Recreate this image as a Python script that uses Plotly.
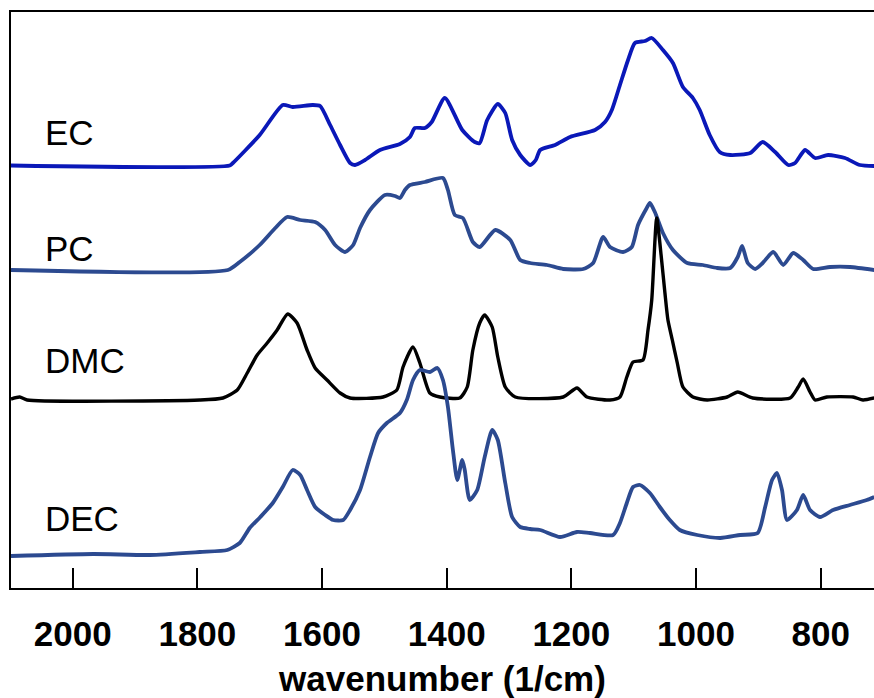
import plotly.graph_objects as go

# ---- data (wavenumber in 1/cm, relative absorbance, arbitrary units) ----
series_names = ["EC", "PC", "DMC", "DEC"]
series_offsets = [4.225, 3.18, 1.88, 0.33]

ec_wn = [2099, 1748, 1743, 1700, 1663, 1647, 1615, 1603, 1587, 1571, 1555, 1547, 1531, 1507, 1475,
         1459, 1451, 1435, 1424, 1403, 1375, 1355, 1347, 1335, 1318, 1306, 1295, 1282, 1266, 1257,
         1250, 1226, 1202, 1162, 1146, 1135, 1122, 1109, 1098, 1082, 1071, 1053, 1037, 1021, 1005,
         994, 978, 962, 945, 913, 893, 873, 852, 841, 825, 809, 788, 761, 737, 714]
ec_abs = [0, 0, .025, .305, .605, .585, .605, .595, .405, .205, .025, .005, .055, .155, .215,
          .285, .375, .375, .435, .675, .355, .235, .225, .455, .615, .525, .255, .105, .005, .055,
          .155, .205, .285, .355, .435, .555, .805, 1.055, 1.225, 1.245, 1.275, 1.155, 1.025, .785, .675,
          .555, .305, .135, .105, .125, .235, .135, .005, .025, .155, .075, .105, .075, .005, -.005]

pc_wn = [2099, 1751, 1732, 1700, 1675, 1656, 1635, 1611, 1595, 1579, 1563, 1550, 1539, 1523, 1499,
         1483, 1475, 1467, 1459, 1435, 1406, 1398, 1387, 1374, 1358, 1347, 1322, 1298, 1282, 1266,
         1239, 1213, 1181, 1165, 1149, 1138, 1117, 1103, 1093, 1079, 1074, 1066, 1053, 1037, 1014,
         989, 966, 945, 933, 926, 917, 905, 893, 876, 860, 844, 828, 812, 785, 753, 714]
pc_abs = [0, 0, .08, .25, .42, .53, .50, .48, .40, .25, .18, .25, .42, .60, .75,
          .74, .72, .80, .85, .88, .92, .80, .55, .52, .28, .23, .40, .30, .10, .07,
          .05, .01, .01, .07, .33, .23, .18, .23, .45, .62, .67, .58, .37, .20, .07,
          .05, .02, .02, .13, .24, .07, .01, .07, .18, .05, .17, .10, .01, .03, .03, 0]

dmc_wn = [2099, 2085, 2073, 1796, 1759, 1736, 1720, 1704, 1688, 1672, 1655, 1640, 1624, 1611, 1592,
          1571, 1555, 1502, 1480, 1470, 1454, 1443, 1427, 1411, 1379, 1367, 1358, 1347, 1339, 1327,
          1318, 1306, 1290, 1213, 1191, 1175, 1138, 1122, 1111, 1101, 1085, 1077, 1071, 1063, 1056,
          1050, 1045, 1038, 1030, 1021, 1005, 982, 950, 933, 909, 849, 836, 828, 817, 809,
          790, 748, 732, 714]
dmc_abs = [.01, .03, 0, 0, .02, .10, .27, .45, .57, .70, .86, .77, .50, .32, .20,
           .07, .02, .03, .10, .33, .53, .37, .07, .03, .02, .13, .50, .77, .85, .73,
           .43, .13, .03, .03, .12, .03, 0, .03, .23, .38, .40, .70, 1.00, 1.82, 1.45,
           1.08, .80, .60, .37, .13, .03, 0, .03, .08, .02, .02, .13, .21, .08, 0,
           .03, .03, 0, .02]

dec_wn = [2099, 1967, 1876, 1796, 1752, 1732, 1716, 1699, 1679, 1663, 1647, 1635, 1624, 1611, 1595,
          1582, 1566, 1555, 1539, 1523, 1510, 1496, 1475, 1464, 1454, 1443, 1427, 1415, 1406, 1398,
          1390, 1383, 1375, 1371, 1363, 1351, 1339, 1327, 1318, 1306, 1295, 1282, 1266, 1250, 1218,
          1191, 1170, 1133, 1122, 1111, 1101, 1090, 1074, 1058, 1042, 1026, 998, 961, 929, 901,
          889, 878, 870, 862, 854, 838, 828, 817, 801, 780, 753, 726, 714]
dec_abs = [-.01, .01, 0, .03, .05, .12, .27, .38, .52, .68, .85, .80, .65, .48, .40,
           .35, .35, .45, .65, .98, 1.22, 1.32, 1.42, 1.55, 1.75, 1.85, 1.83, 1.87, 1.75, 1.48,
           1.05, .75, .95, .85, .55, .65, .98, 1.25, 1.15, .72, .38, .28, .26, .25, .18,
           .23, .22, .20, .32, .52, .68, .70, .62, .48, .35, .25, .20, .17, .20, .22,
           .48, .75, .82, .65, .35, .45, .60, .45, .38, .45, .50, .55, .58]

tick_vals = [2000, 1800, 1600, 1400, 1200, 1000, 800]
tick_text = ["2000", "1800", "1600", "1400", "1200", "1000", "800"]
x_title = "wavenumber (1/cm)"

# ---- styling ----
colors = ["#0a18b8", "#2c4a90", "#000000", "#2c4a90"]
widths = [3.8, 3.8, 3.4, 3.8]
label_x = 2047
label_y = [4.555, 3.395, 2.275, 0.695]

wns = [ec_wn, pc_wn, dmc_wn, dec_wn]
absv = [ec_abs, pc_abs, dmc_abs, dec_abs]

fig = go.Figure()
for name, off, wn, a, c, w in zip(series_names, series_offsets, wns, absv, colors, widths):
    fig.add_trace(go.Scatter(
        x=wn, y=[off + v for v in a], mode="lines", name=name,
        line=dict(color=c, width=w, shape="spline", smoothing=0.6),
        showlegend=False, hoverinfo="skip"))

for name, ly in zip(series_names, label_y):
    fig.add_annotation(x=label_x, y=ly, xref="x", yref="y", text=name, showarrow=False,
                       xanchor="left", yanchor="middle",
                       font=dict(family="Liberation Sans, Arial", size=35, color="black"))

font_b = dict(family="Liberation Sans, Arial", size=35, color="black", weight="bold")

fig.update_layout(
    width=874, height=698,
    margin=dict(l=11, r=0, t=12, b=110),
    plot_bgcolor="white", paper_bgcolor="white",
    xaxis=dict(range=[2099, 714.4], tickvals=tick_vals, ticktext=tick_text,
               ticks="inside", ticklen=20, tickwidth=2, tickcolor="black",
               showline=True, linewidth=2, linecolor="black", mirror=True,
               showgrid=False, zeroline=False, tickfont=font_b,
               ticklabelstandoff=14,
               title=dict(text=x_title, font=dict(family="Liberation Sans, Arial", size=35,
                                                  color="black", weight="bold"), standoff=14)),
    yaxis=dict(range=[0, 5.76], showticklabels=False, ticks="",
               showline=True, linewidth=2, linecolor="black",
               showgrid=False, zeroline=False),
)

fig.write_html("out.html")
